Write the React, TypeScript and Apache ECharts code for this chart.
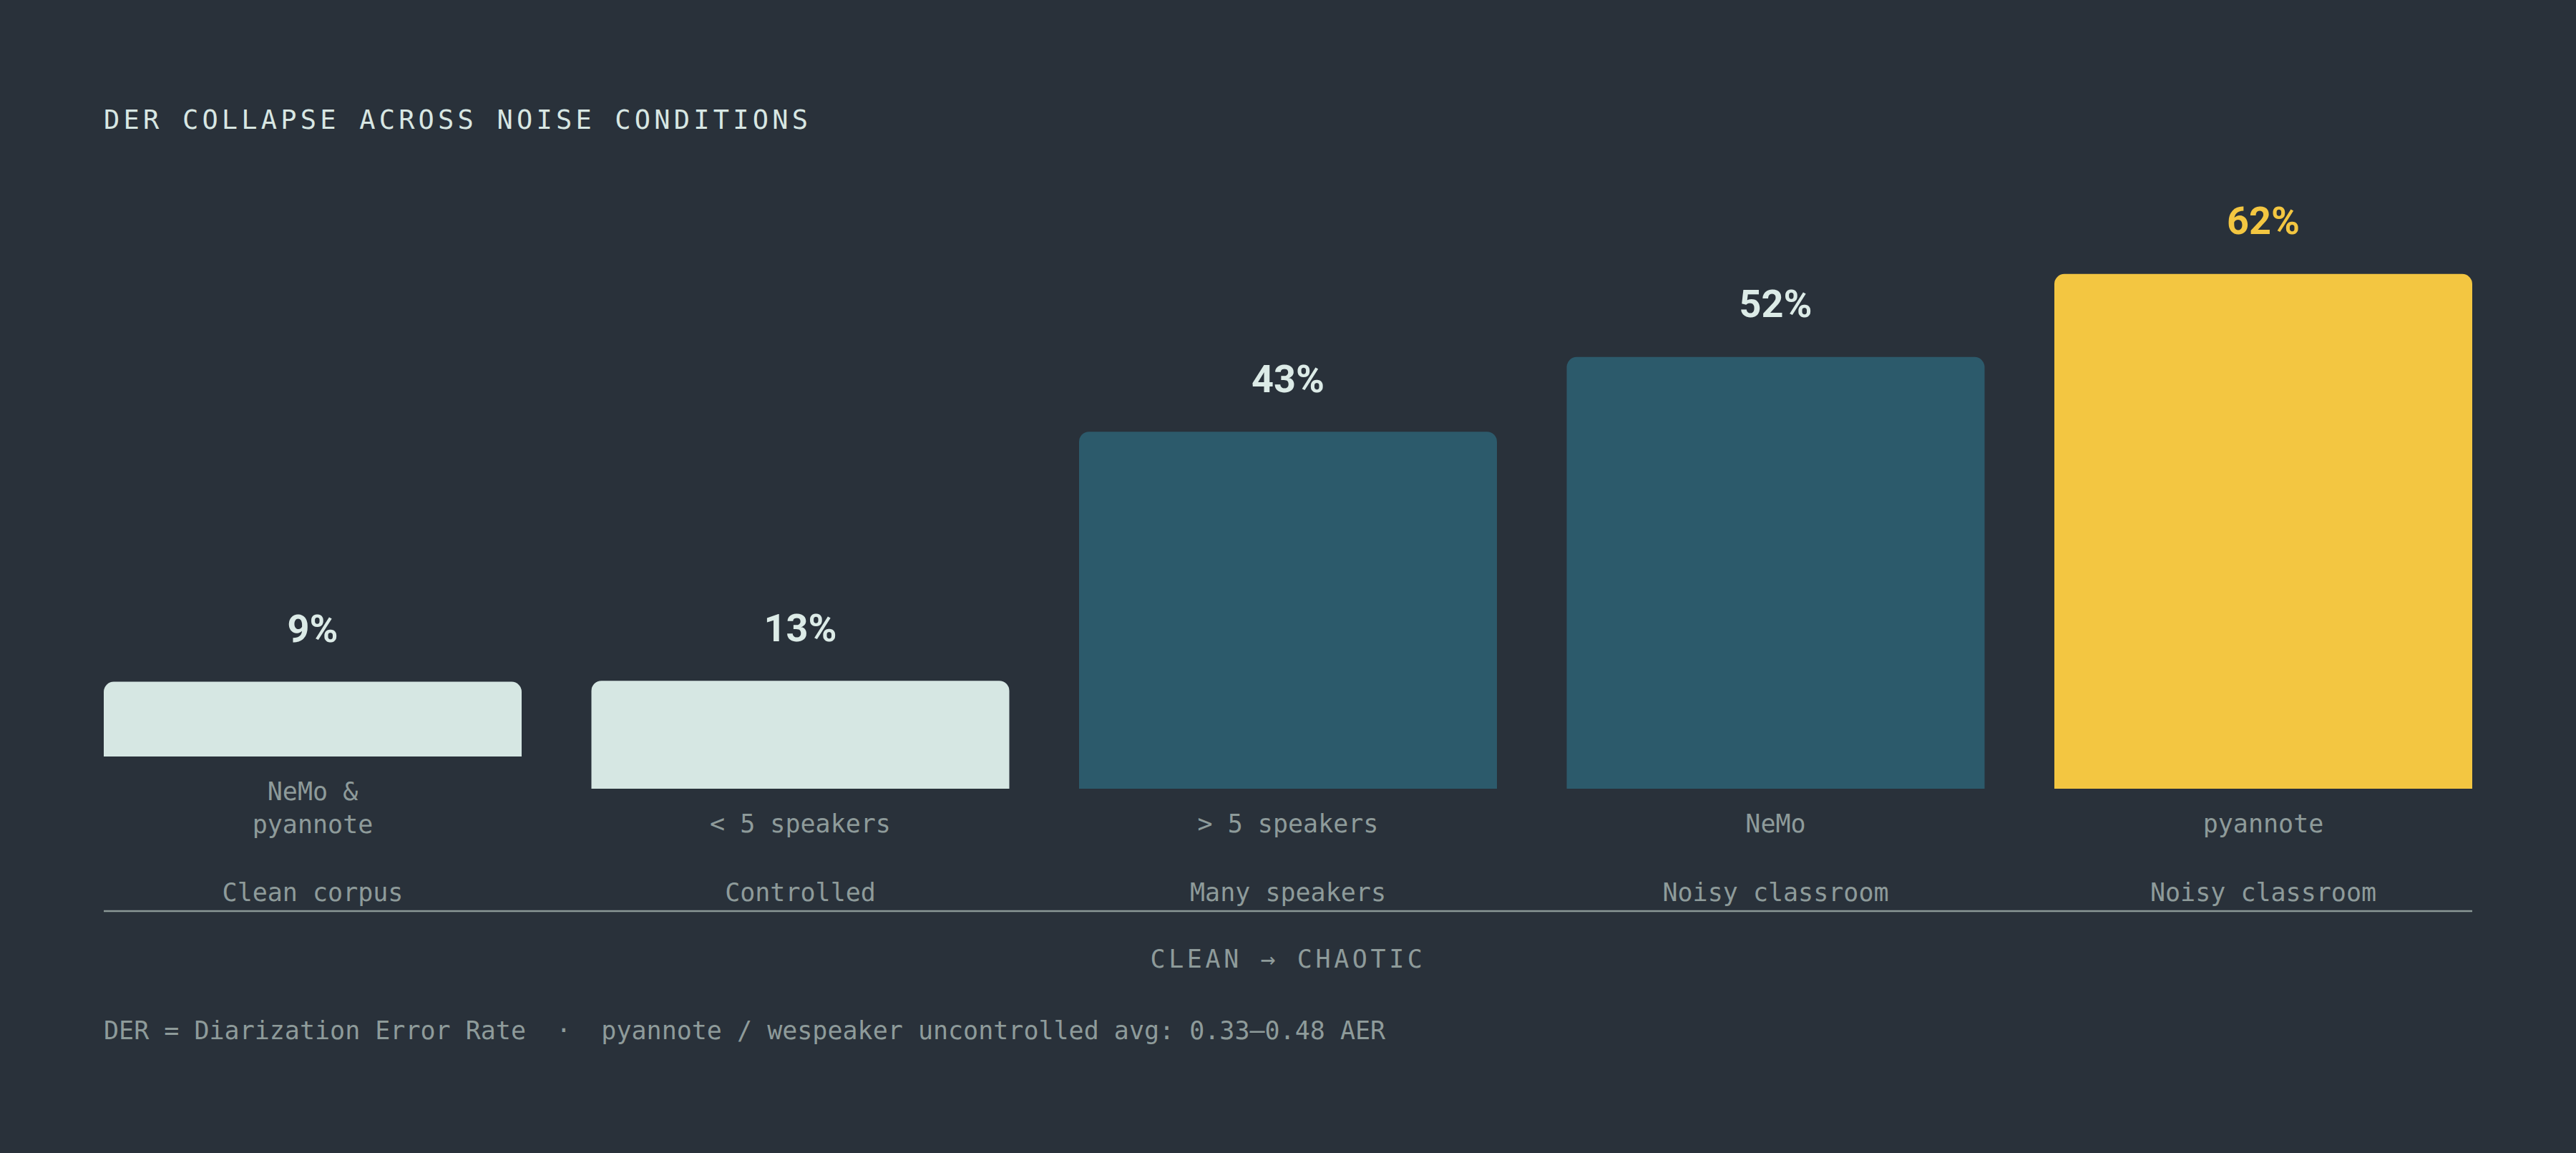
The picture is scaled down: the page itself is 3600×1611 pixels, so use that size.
import React, { useEffect, useRef } from 'react';
import * as echarts from 'echarts';

// ---- data ----
const contexts = ['Clean corpus', 'Controlled', 'Many speakers', 'Noisy classroom', 'Noisy classroom'];
const models = ['NeMo &\npyannote', '< 5 speakers', '> 5 speakers', 'NeMo', 'pyannote'];
const derValues = [9, 13, 43, 52, 62];
const liftedIndex = 0; // bar whose two-line label lifts it above the common baseline

const TITLE = 'DER COLLAPSE ACROSS NOISE CONDITIONS';
const AXIS_NOTE = 'CLEAN → CHAOTIC';
const FOOTNOTE = 'DER = Diarization Error Rate  ·  pyannote / wespeaker uncontrolled avg: 0.33–0.48 AER';

// ---- styles ----
const BG = '#29313a';
const barColors = ['#d6e7e3', '#d6e7e3', '#2c5a6b', '#2c5a6b', '#f3c641'];
const valueColors = ['#dcebe7', '#dcebe7', '#dcebe7', '#dcebe7', '#f3c641'];
const GREY = '#8e9b9a';
const TITLE_COLOR = '#d8e7e3';
const MONO = '"DejaVu Sans Mono", "Liberation Mono", monospace';
const SANS = 'Roboto, Inter, "Noto Sans", sans-serif';

// ---- layout ----
const W = 3600;
const H = 1611;
const plotLeft = 145;
const plotRight = 3455;
const gap = 97.5;
const n = derValues.length;
const band = (plotRight - plotLeft + gap) / n;
const barW = band - gap;
const gridLeft = plotLeft - gap / 2;
const gridWidth = band * n;
const pxPerUnit = 11.6;
const yMax = 70;
const gridHeight = yMax * pxPerUnit;
const baseY = 1102;
const liftedBaseY = 1057;

function applyTextTweaks(el: HTMLElement) {
  el.querySelectorAll('text').forEach((t) => {
    const s = t.textContent || '';
    if (s === TITLE) t.setAttribute('letter-spacing', '5.2');
    else if (s === AXIS_NOTE) t.setAttribute('letter-spacing', '4.6');
    (t as any).style.whiteSpace = 'pre';
  });
}

export default function App() {
  const ref = useRef<HTMLDivElement>(null);

  useEffect(() => {
    document.body.style.margin = '0';
    document.body.style.background = BG;
    if (!ref.current) return;
    const chart = echarts.init(ref.current, undefined, { renderer: 'svg' });

    const catLabel = {
      fontFamily: MONO,
      fontSize: 35,
      lineHeight: 46,
      color: GREY,
      interval: 0,
    };

    const makeData = (keep: (i: number) => boolean) =>
      derValues.map((v, i) =>
        keep(i)
          ? { value: v, itemStyle: { color: barColors[i] }, label: { color: valueColors[i] } }
          : '-'
      );

    const barSeries = (idx: number, keep: (i: number) => boolean) => ({
      type: 'bar',
      xAxisIndex: idx === 0 ? 0 : 2,
      yAxisIndex: idx,
      barWidth: barW,
      data: makeData(keep),
      itemStyle: { borderRadius: [14, 14, 0, 0] },
      label: {
        show: true,
        position: 'top',
        distance: 47,
        formatter: '{c}%',
        fontFamily: SANS,
        fontWeight: 700,
        fontSize: 54,
      },
      silent: true,
    });

    chart.setOption({
      animation: false,
      backgroundColor: BG,
      grid: [
        { left: gridLeft, width: gridWidth, top: baseY - gridHeight, height: gridHeight },
        { left: gridLeft, width: gridWidth, top: liftedBaseY - gridHeight, height: gridHeight },
      ],
      xAxis: [
        {
          gridIndex: 0,
          type: 'category',
          position: 'bottom',
          data: models,
          axisLine: { show: false },
          axisTick: { show: false },
          axisLabel: { ...catLabel, margin: 26, formatter: (v: string, i: number) => (i === liftedIndex ? '' : v) },
        },
        {
          gridIndex: 0,
          type: 'category',
          position: 'bottom',
          offset: 0,
          data: contexts,
          axisLine: { show: false },
          axisTick: { show: false },
          axisLabel: { ...catLabel, margin: 122 },
        },
        {
          gridIndex: 1,
          type: 'category',
          position: 'bottom',
          data: models,
          axisLine: { show: false },
          axisTick: { show: false },
          axisLabel: { ...catLabel, margin: 26, formatter: (v: string, i: number) => (i === liftedIndex ? v : '') },
        },
      ],
      yAxis: [
        { gridIndex: 0, type: 'value', min: 0, max: yMax, show: false },
        { gridIndex: 1, type: 'value', min: 0, max: yMax, show: false },
      ],
      series: [
        barSeries(0, (i) => i !== liftedIndex),
        barSeries(1, (i) => i === liftedIndex),
      ],
      graphic: [
        {
          type: 'text',
          x: plotLeft,
          y: 167,
          style: { text: TITLE, font: `37px ${MONO}`, fill: TITLE_COLOR, verticalAlign: 'middle', align: 'left' },
        },
        {
          type: 'line',
          shape: { x1: plotLeft, y1: 1273, x2: plotRight, y2: 1273 },
          style: { stroke: '#8a9896', lineWidth: 2.5 },
        },
        {
          type: 'text',
          x: (plotLeft + plotRight) / 2,
          y: 1340,
          style: { text: AXIS_NOTE, font: `35px ${MONO}`, fill: GREY, verticalAlign: 'middle', align: 'center' },
        },
        {
          type: 'text',
          x: plotLeft,
          y: 1440,
          style: { text: FOOTNOTE, font: `35px ${MONO}`, fill: GREY, verticalAlign: 'middle', align: 'left' },
        },
      ],
    });

    const el = ref.current;
    applyTextTweaks(el);
    chart.on('finished', () => applyTextTweaks(el));
    const t = setTimeout(() => applyTextTweaks(el), 50);

    return () => {
      clearTimeout(t);
      chart.dispose();
    };
  }, []);

  return <div ref={ref} style={{ width: W, height: H }} />;
}
